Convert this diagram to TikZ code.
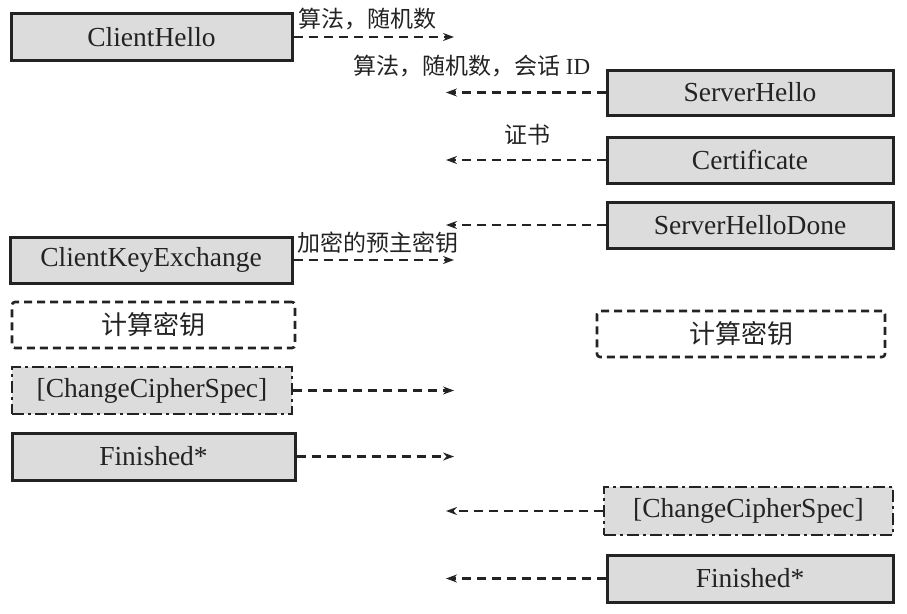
\documentclass[tikz,border=0pt]{standalone}
\usepackage{fontspec}
\setmainfont{Liberation Serif}
\newfontfamily\cjk{Noto Sans CJK SC}
\usetikzlibrary{arrows.meta}
\definecolor{boxgray}{RGB}{220,220,220}
\definecolor{ink}{RGB}{35,35,35}
\tikzset{
  base/.style={draw=ink, inner sep=0pt, text=ink, font=\fontsize{27.5}{27.5}\selectfont},
  msgbox/.style={base, line width=3pt, fill=boxgray},
  keybox/.style={base, line width=2.6pt, fill=white, rounded corners=3pt, dash pattern=on 8pt off 5pt},
  ccsbox/.style={base, line width=2.6pt, fill=boxgray, dash pattern=on 12pt off 4pt on 3pt off 4pt},
  msg/.style={draw=ink, line width=2.4pt, dash pattern=on 9pt off 6pt, -{Stealth[length=11pt,width=8pt]}},
  lbl/.style={text=ink, font=\cjk\fontsize{23}{23}\selectfont, inner sep=0pt},
}
\begin{document}
\begin{tikzpicture}[x=1pt,y=-1pt]
\useasboundingbox (0,0) rectangle (907,613);
% client side
\node[msgbox, minimum width=281pt, minimum height=47pt] (ch) at (151.5,37) {ClientHello};
\node[msgbox, minimum width=282pt, minimum height=46pt] (cke) at (151,260) {ClientKeyExchange};
\node[keybox, minimum width=283pt, minimum height=46pt] (lkey) at (153.5,325) {\cjk\fontsize{26}{26}\selectfont 计算密钥};
\node[ccsbox, minimum width=280pt, minimum height=47pt] (lccs) at (152,390.5) {[ChangeCipherSpec]};
\node[msgbox, minimum width=283pt, minimum height=47pt] (lfin) at (153.5,456.5) {Finished*};
% server side
\node[msgbox, minimum width=286pt, minimum height=45pt] (sh) at (750,92.5) {ServerHello};
\node[msgbox, minimum width=286pt, minimum height=46pt] (cert) at (750,160) {Certificate};
\node[msgbox, minimum width=286pt, minimum height=46pt] (shd) at (750,225) {ServerHelloDone};
\node[keybox, minimum width=288pt, minimum height=46pt] (rkey) at (741,334) {\cjk\fontsize{26}{26}\selectfont 计算密钥};
\node[ccsbox, minimum width=289pt, minimum height=48pt] (rccs) at (748.5,511) {[ChangeCipherSpec]};
\node[msgbox, minimum width=286pt, minimum height=47pt] (rfin) at (750,578.5) {Finished*};
% arrow ends
\coordinate (L) at (454,0);
\coordinate (R) at (446,0);
\draw[msg] (ch.east) -- (ch.east -| L);
\draw[msg] (cke.east) -- (cke.east -| L);
\draw[msg] (lccs.east) -- (lccs.east -| L);
\draw[msg] (lfin.east) -- (lfin.east -| L);
\draw[msg] (sh.west) -- (sh.west -| R);
\draw[msg] (cert.west) -- (cert.west -| R);
\draw[msg] (shd.west) -- (shd.west -| R);
\draw[msg] (rccs.west) -- (rccs.west -| R);
\draw[msg] (rfin.west) -- (rfin.west -| R);
% labels
\node[lbl] (l1) at (367,19) {算法，随机数};
\node[lbl] (l2) at (472,66) {算法，随机数，会话 {\rmfamily ID}};
\node[lbl] (l3) at (527,135) {证书};
\node[lbl] (l4) at (378,243) {加密的预主密钥};
\end{tikzpicture}
\end{document}
